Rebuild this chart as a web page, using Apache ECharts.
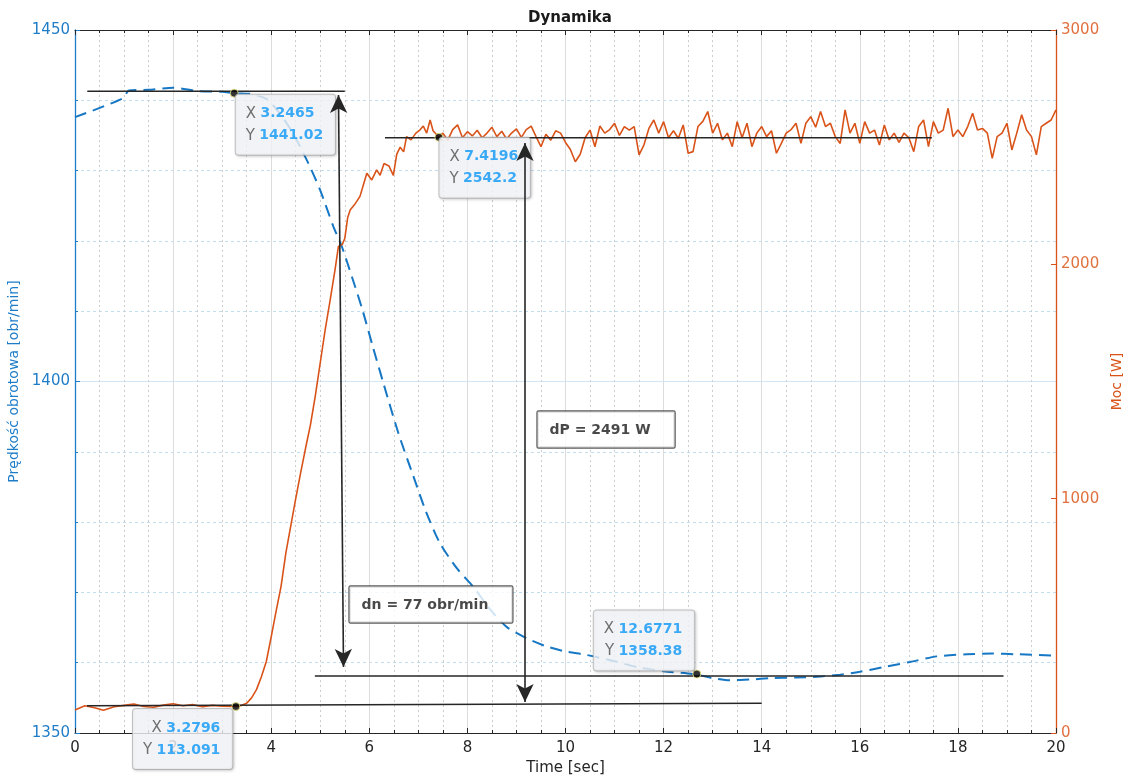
<!DOCTYPE html>
<html>
<head>
<meta charset="utf-8">
<script src="https://cdn.jsdelivr.net/npm/echarts@6/dist/echarts.min.js"></script>
<style>html,body{margin:0;padding:0;background:#fff}#c{width:1127px;height:783px}</style>
</head>
<body>
<div id="c"></div>
<script>
// ---------- DATA ----------
const chartTitle = 'Dynamika';
const xAxisName = 'Time [sec]';
const leftAxisName = 'Prędkość obrotowa [obr/min]';
const rightAxisName = 'Moc [W]';

// rotational speed [obr/min] (left axis), [time, value]
const speedSamples = [
  [0,1437.6],[0.98,1440.3],[1.1,1441.4],[1.5,1441.5],[2.0,1441.8],[2.5,1441.3],[3.0,1441.2],
  [3.25,1441.0],[3.6,1440.9],[3.9,1440.2],[4.1,1438.8],[4.3,1436.9],[4.5,1434.6],[4.76,1431.0],
  [5.0,1427.2],[5.27,1422.0],[5.44,1419.2],[5.65,1414.8],[5.86,1410.2],[6.07,1405.0],[6.29,1399.7],
  [6.6,1392.5],[6.9,1386.5],[7.15,1381.6],[7.44,1377.0],[7.8,1373.3],[8.12,1370.8],[8.45,1367.7],
  [8.8,1365.1],[9.2,1363.5],[9.62,1362.3],[10.0,1361.6],[10.43,1361.1],[11.0,1360.2],[11.5,1359.3],
  [12.0,1358.8],[12.68,1358.3],[13.0,1357.8],[13.35,1357.5],[13.76,1357.6],[14.2,1357.8],[14.7,1357.9],
  [15.12,1358.0],[15.6,1358.3],[16.0,1358.7],[16.5,1359.4],[17.02,1360.1],[17.57,1360.9],[18.18,1361.2],
  [18.7,1361.3],[19.2,1361.2],[20.0,1361.0]
];

// power [W] (right axis), [time, value]
const powerSamples = [
  [0,98],[0.2,116],[0.4,108],[0.58,97],[0.8,112],[1.0,118],[1.2,124],[1.4,113],[1.6,110],[1.8,119],
  [2.0,125],[2.2,116],[2.4,121],[2.6,112],[2.8,118],[3.0,114],[3.28,113],[3.4,118],[3.5,127],[3.6,150],
  [3.7,185],[3.8,240],[3.9,305],[4.0,410],[4.1,520],[4.2,625],[4.3,770],[4.4,885],[4.5,1000],[4.6,1110],
  [4.7,1215],[4.8,1315],[4.9,1440],[5.0,1580],[5.1,1720],[5.2,1845],[5.3,1975],[5.37,2076],[5.45,2085],
  [5.5,2110],[5.56,2200],[5.61,2232],[5.7,2255],[5.81,2290],[5.88,2340],[5.95,2389],[6.05,2360],
  [6.15,2403],[6.22,2380],[6.3,2430],[6.4,2420],[6.49,2380],[6.56,2470],[6.63,2500],[6.7,2480],
  [6.76,2545],[6.85,2531],[6.95,2560],[7.03,2573],[7.1,2590],[7.17,2560],[7.24,2616],[7.3,2570],
  [7.42,2542],[7.5,2560],[7.6,2530],[7.7,2575],[7.8,2595],[7.9,2540],[8.0,2566],[8.1,2548],[8.2,2572],
  [8.3,2540],[8.4,2560],[8.5,2585],[8.6,2545],[8.7,2568],[8.8,2535],[8.9,2560],[9.0,2578],[9.1,2542],
  [9.2,2575],[9.3,2590],[9.4,2545],[9.5,2502],[9.6,2555],[9.7,2530],[9.8,2570],[9.9,2560],[10.0,2520],
  [10.1,2490],[10.2,2438],[10.3,2470],[10.4,2540],[10.5,2573],[10.6,2502],[10.7,2590],[10.8,2560],
  [10.9,2575],[11.0,2602],[11.1,2550],[11.2,2588],[11.3,2573],[11.4,2588],[11.5,2467],[11.6,2510],
  [11.7,2580],[11.8,2616],[11.9,2560],[12.0,2609],[12.1,2540],[12.2,2570],[12.3,2538],[12.4,2595],
  [12.5,2474],[12.6,2481],[12.7,2588],[12.8,2610],[12.9,2652],[13.0,2560],[13.1,2602],[13.2,2531],
  [13.3,2560],[13.4,2502],[13.5,2609],[13.6,2540],[13.7,2602],[13.8,2502],[13.9,2560],[14.0,2588],
  [14.1,2545],[14.2,2570],[14.3,2474],[14.4,2516],[14.5,2560],[14.6,2575],[14.7,2602],[14.8,2516],
  [14.9,2602],[15.0,2630],[15.1,2585],[15.2,2652],[15.3,2588],[15.4,2602],[15.5,2545],[15.6,2516],
  [15.7,2659],[15.8,2560],[15.9,2602],[16.0,2516],[16.1,2609],[16.2,2560],[16.3,2573],[16.4,2509],
  [16.5,2595],[16.6,2531],[16.7,2560],[16.8,2520],[16.9,2560],[17.0,2540],[17.1,2481],[17.2,2588],
  [17.3,2616],[17.4,2502],[17.5,2609],[17.6,2560],[17.7,2573],[17.8,2666],[17.9,2545],[18.0,2573],
  [18.1,2545],[18.2,2588],[18.3,2645],[18.4,2573],[18.5,2580],[18.6,2560],[18.7,2452],[18.8,2545],
  [18.9,2560],[19.0,2602],[19.1,2488],[19.2,2560],[19.3,2638],[19.4,2573],[19.5,2545],[19.6,2467],
  [19.7,2588],[19.8,2602],[19.9,2616],[20.0,2659]
];

// data tips
const tipX = [3.2465, 7.4196, 12.6771, 3.2796];
const tipY = [1441.02, 2542.2, 1358.38, 113.091];
const tipAxis = [0, 1, 0, 1];

// reference lines (data coords): [axisIndex, x1, y1, x2, y2]
const refLines = [
  [0, 0.25, 1441.3, 5.5, 1441.3],
  [1, 6.32, 2540, 17.47, 2540],
  [0, 4.89, 1358.1, 18.93, 1358.1],
  [1, 0.245, 116.5, 14.0, 126.7]
];
// double arrows (data coords): [axisIndex, x1, y1, x2, y2]
const arrowLines = [
  [0, 5.372, 1440.75, 5.474, 1359.4],
  [1, 9.174, 2518, 9.174, 132]
];
// text boxes: [axisIndex, x, y (top-left anchor), text]
const noteBoxes = [
  [0, 5.607, 1370.77, 'dn = 77 obr/min'],
  [0, 9.44, 1395.66, 'dP = 2491 W']
];

// axis ticks
const xMin = 0, xMax = 20, xStep = 2;
const speedMin = 1350, speedMax = 1450, speedStep = 50;
const powerMin = 0, powerMax = 3000, powerStep = 1000;

// ---------- CHART ----------
const FONT = "'DejaVu Sans', 'Liberation Sans', sans-serif";
const BLUE = '#1f7dc8';
const BLUE_LINE = '#1677c4';
const ORANGE = '#D95319';
const DARK = '#262626';
const plain = v => String(v);

const chart = echarts.init(document.getElementById('c'), null, {renderer: 'canvas'});

const series = [];
series.push({
  type: 'line', name: 'speed', xAxisIndex: 0, yAxisIndex: 0,
  data: speedSamples, showSymbol: false, smooth: 0.25, z: 3,
  lineStyle: {color: BLUE_LINE, width: 2, type: [12, 7]},
  markLine: {
    silent: true, z: 20, animation: false,
    symbol: ['arrow', 'arrow'], symbolSize: [13, 18],
    label: {show: false},
    lineStyle: {color: DARK, width: 1.6, type: 'solid'},
    data: arrowLines.filter(a => a[0] === 0).map(a => [{coord: [a[1], a[2]]}, {coord: [a[3], a[4]]}])
  }
});
series.push({
  type: 'line', name: 'power', xAxisIndex: 0, yAxisIndex: 1,
  data: powerSamples, showSymbol: false, z: 4,
  lineStyle: {color: ORANGE, width: 1.6},
  markLine: {
    silent: true, z: 20, animation: false,
    symbol: ['arrow', 'arrow'], symbolSize: [13, 18],
    label: {show: false},
    lineStyle: {color: DARK, width: 1.6, type: 'solid'},
    data: arrowLines.filter(a => a[0] === 1).map(a => [{coord: [a[1], a[2]]}, {coord: [a[3], a[4]]}])
  }
});
refLines.forEach(r => {
  series.push({
    type: 'line', xAxisIndex: 0, yAxisIndex: r[0], silent: true,
    data: [[r[1], r[2]], [r[3], r[4]]], showSymbol: false, z: 6,
    lineStyle: {color: DARK, width: 1.5}
  });
});

// data-tip label placement (style): position relative to marker box, alignment
const tipPlacement = [
  {position: [6, 6], align: 'left', verticalAlign: 'top'},
  {position: [5, 5], align: 'left', verticalAlign: 'top'},
  {position: [2, 1], align: 'right', verticalAlign: 'bottom'},
  {position: [1, 7], align: 'right', verticalAlign: 'top'}
];
tipX.forEach((x, i) => {
  const p = tipPlacement[i];
  series.push({
    type: 'scatter', xAxisIndex: 0, yAxisIndex: tipAxis[i], silent: true, z: 10,
    data: [[x, tipY[i]]],
    symbol: 'circle', symbolSize: 8,
    itemStyle: {color: '#000', borderColor: '#f5f08a', borderWidth: 1},
    label: {
      show: true, position: p.position, align: p.align, verticalAlign: p.verticalAlign,
      formatter: '{k|X} {v|' + String(x) + '}\n{k|Y} {v|' + String(tipY[i]) + '}',
      backgroundColor: '#f8f9fd', borderColor: '#b9b9b9', borderWidth: 1, borderRadius: 3,
      padding: [8, 12, 8, 10],
      shadowColor: 'rgba(0,0,0,0.18)', shadowBlur: 3, shadowOffsetX: 1, shadowOffsetY: 1,
      fontFamily: FONT, fontSize: 14, lineHeight: 22, color: '#4d4d4d',
      rich: {
        k: {color: '#4d4d4d', fontSize: 15, lineHeight: 22, fontFamily: FONT},
        v: {color: '#0b97f7', fontSize: 14, fontWeight: 'bold', lineHeight: 22, fontFamily: FONT}
      }
    }
  });
});

noteBoxes.forEach(b => {
  series.push({
    type: 'scatter', xAxisIndex: 0, yAxisIndex: b[0], silent: true, z: 15,
    data: [[b[1], b[2]]],
    symbol: 'rect', symbolSize: 1, itemStyle: {color: 'rgba(0,0,0,0)'},
    label: {
      show: true, position: [0, 0], align: 'left', verticalAlign: 'top',
      formatter: b[3],
      fontFamily: FONT, fontSize: 14, fontWeight: 'bold', color: '#1a1a1a',
      backgroundColor: '#ffffff', borderColor: '#333333', borderWidth: 1.2, borderRadius: 1,
      padding: [10, 24, 9, 12], lineHeight: 17
    }
  });
});

const option = {
  animation: false,
  backgroundColor: '#ffffff',
  textStyle: {fontFamily: FONT},
  title: {
    text: chartTitle, left: 565, textAlign: 'center', top: 6,
    textStyle: {fontFamily: FONT, fontSize: 15, fontWeight: 'bold', color: '#1a1a1a'}
  },
  grid: {left: 75, right: 71, top: 30, bottom: 50, containLabel: false, outerBoundsMode: 'none'},
  xAxis: [
    {
      type: 'value', min: xMin, max: xMax, interval: xStep, position: 'bottom',
      name: xAxisName, nameLocation: 'middle', nameGap: 27,
      nameTextStyle: {fontFamily: FONT, fontSize: 15, color: DARK},
      axisLine: {show: true, onZero: false, lineStyle: {color: DARK, width: 1}},
      axisTick: {show: true, inside: true, length: 5, lineStyle: {color: DARK}},
      minorTick: {show: true, splitNumber: 4, length: 3, lineStyle: {color: DARK}},
      axisLabel: {fontFamily: FONT, fontSize: 15, color: DARK, margin: 8, formatter: plain},
      splitLine: {show: true, lineStyle: {color: '#dcdcdc', width: 1}},
      minorSplitLine: {show: true, lineStyle: {color: '#cdcdcd', width: 1, type: [2, 3]}}
    },
    {
      type: 'value', min: xMin, max: xMax, interval: xStep, position: 'top',
      axisLine: {show: true, onZero: false, lineStyle: {color: DARK, width: 1}},
      axisTick: {show: true, inside: true, length: 5, lineStyle: {color: DARK}},
      minorTick: {show: true, splitNumber: 4, length: 3, lineStyle: {color: DARK}},
      axisLabel: {show: false},
      splitLine: {show: false}
    }
  ],
  yAxis: [
    {
      type: 'value', min: speedMin, max: speedMax, interval: speedStep, position: 'left',
      name: leftAxisName, nameLocation: 'middle', nameGap: 50, nameRotate: 90,
      nameTextStyle: {fontFamily: FONT, fontSize: 14, color: BLUE},
      axisLine: {show: true, onZero: false, lineStyle: {color: BLUE, width: 1.3}},
      axisTick: {show: true, inside: true, length: 5, lineStyle: {color: BLUE}},
      minorTick: {show: true, splitNumber: 5, length: 3, lineStyle: {color: BLUE}},
      axisLabel: {fontFamily: FONT, fontSize: 15, color: BLUE, margin: 5, formatter: plain},
      splitLine: {show: true, lineStyle: {color: '#d3e6f5', width: 1}},
      minorSplitLine: {show: true, lineStyle: {color: '#c2dcf0', width: 1, type: [3, 3]}}
    },
    {
      type: 'value', min: powerMin, max: powerMax, interval: powerStep, position: 'right',
      name: rightAxisName, nameLocation: 'middle', nameGap: 44, nameRotate: 90,
      nameTextStyle: {fontFamily: FONT, fontSize: 14, color: ORANGE},
      axisLine: {show: true, onZero: false, lineStyle: {color: ORANGE, width: 1.3}},
      axisTick: {show: true, inside: true, length: 5, lineStyle: {color: ORANGE}},
      axisLabel: {fontFamily: FONT, fontSize: 15, color: '#e0703f', margin: 5, formatter: plain},
      splitLine: {show: false}
    }
  ],
  series: series
};
chart.setOption(option);
</script>
</body>
</html>
